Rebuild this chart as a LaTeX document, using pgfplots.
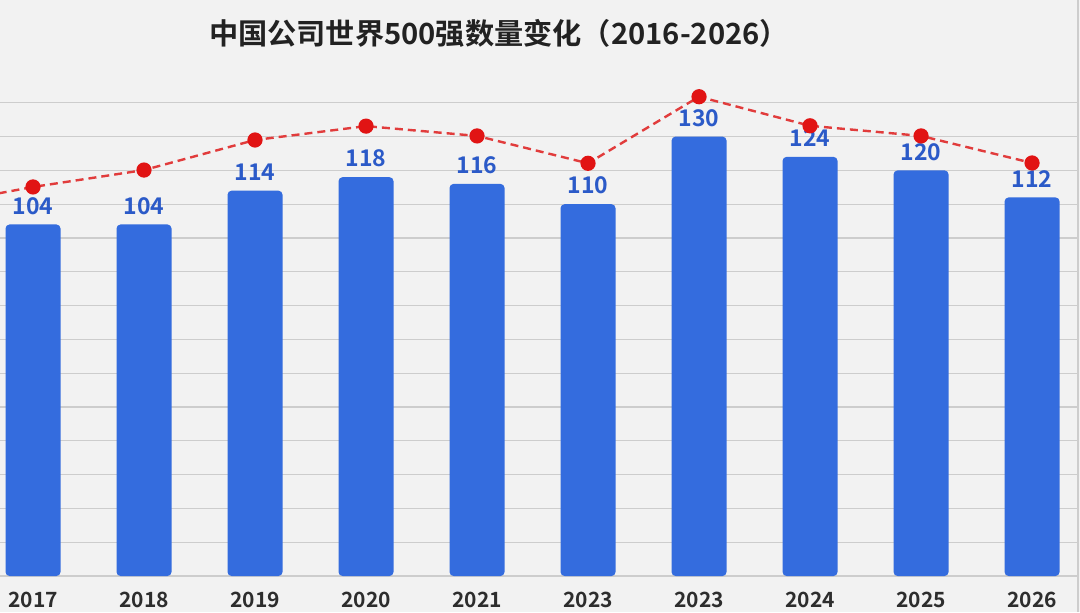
\documentclass[border=0pt]{standalone}
\usepackage{fontspec}
\setmainfont{Noto Sans CJK SC}[BoldFont={* Bold}]
\usepackage{pgfplots}
\pgfplotsset{compat=1.18}
\definecolor{bg}{RGB}{242,242,242}
\definecolor{gridc}{RGB}{205,205,205}
\definecolor{barc}{RGB}{52,108,222}
\definecolor{valc}{RGB}{43,90,200}
\definecolor{dotc}{RGB}{225,20,20}
\definecolor{linec}{RGB}{225,60,60}
\definecolor{titlec}{RGB}{34,34,34}
\definecolor{tickc}{RGB}{45,45,45}
\begin{document}
\begin{tikzpicture}
\clip (0,0) rectangle (540pt,306pt);
\fill[bg] (0,0) rectangle (540pt,306pt);
\draw[gridc, line width=0.6pt] (539pt,0) -- (539pt,306pt);
\begin{axis}[
  at={(0pt,18pt)}, anchor=south west,
  scale only axis, width=539pt, height=270.4pt,
  xmin=-0.2973, xmax=9.414, ymin=0, ymax=160,
  ytick={0,10,...,140}, yticklabels={},
  ymajorgrids, grid style={gridc, line width=0.6pt},
  axis line style={draw=none},
  major tick style={draw=none},
  xtick={0,...,9},
  xticklabels={2017,2018,2019,2020,2021,2023,2023,2024,2025,2026},
  xticklabel style={font=\bfseries\fontsize{10.5}{12}\selectfont, text=tickc, anchor=center, yshift=-12pt, inner sep=0pt},
  /pgf/number format/assume math mode=true,
]
\addplot[ybar, bar width=27.5pt, fill=barc, draw=none, rounded corners=2pt,
  nodes near coords,
  nodes near coords style={font=\bfseries\fontsize{11.5}{13}\selectfont, text=valc, anchor=south, inner sep=0pt, yshift=4.8pt}]
  coordinates {(0,104) (1,104) (2,114) (3,118) (4,116) (5,110) (6,130) (7,124) (8,120) (9,112)};
\addplot[color=linec, line width=1.2pt, dash pattern=on 4pt off 2.5pt,
  mark=*, mark size=3.2pt, mark options={solid, fill=dotc, draw=dotc}]
  coordinates {(-1,109) (0,115.1) (1,120.1) (2,129.0) (3,133.1) (4,130.2) (5,122.1) (6,141.8) (7,133.2) (8,130.2) (9,122.2)};
\end{axis}
\node[font=\bfseries\fontsize{14.6}{17}\selectfont, text=titlec] at (249.5pt,289.5pt) {中国公司世界500强数量变化（2016-2026）};
\end{tikzpicture}
\end{document}
